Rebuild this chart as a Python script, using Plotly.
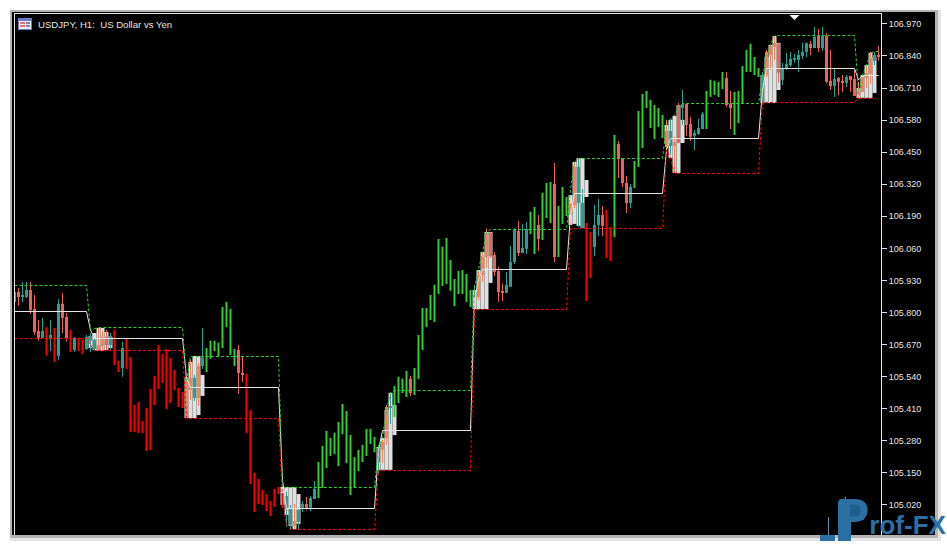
import plotly.graph_objects as go

# --- Candles: kind per bar (t teal, s salmon, r red, g green, o orange) ---
candle_kinds = ("tsttssstrt" "rtssrtrrtt" "toostrrtrr" "rrrrrrrrrr" "rrroototgg"
                "ggggggssrr" "rrrrrrrrtt" "ottsttgggg" "gggggggggg" "gtootggggs"
                "gggggggggg" "gggggtooos" "ssstttsttg" "gsgggsgggo" "ottrrttsrr"
                "gssstggggg" "gggotostss" "tttgggggss" "gggggggtoo" "osttttttts"
                "tstsstssts" "soooots")

highs = [
 105.887,105.899,105.924,105.924,105.924,105.871,105.770,105.778,105.741,105.770,
 105.737,105.855,105.879,105.798,105.729,105.701,105.697,105.689,105.709,105.717,
 105.697,105.737,105.725,105.729,105.717,105.729,105.604,105.681,105.697,105.620,
 105.425,105.437,105.360,105.413,105.490,105.543,105.668,105.632,105.652,105.616,
 105.567,105.494,105.478,105.539,105.608,105.547,105.596,105.737,105.656,105.685,
 105.685,105.677,105.822,105.843,105.814,105.652,105.668,105.620,105.551,105.405,
 105.149,105.125,105.081,105.064,105.036,105.085,105.093,105.068,105.073,105.020,
 105.024,105.008,105.036,105.052,105.056,105.117,105.194,105.259,105.320,105.291,
 105.312,105.356,105.429,105.401,105.303,105.214,105.243,105.263,105.328,105.328,
 105.295,105.263,105.283,105.425,105.478,105.502,105.539,105.531,105.563,105.543,
 105.575,105.709,105.818,105.818,105.871,105.912,106.098,106.066,106.102,106.013,
 105.936,105.968,105.972,105.956,105.891,105.912,105.964,106.041,106.139,106.126,
 106.045,105.985,105.916,105.964,106.070,106.143,106.171,106.159,106.167,106.208,
 106.228,106.195,106.285,106.325,106.329,106.406,106.232,106.309,106.268,106.244,
 106.410,106.426,106.301,106.163,106.126,106.236,106.260,106.232,106.216,106.147,
 106.520,106.495,106.426,106.353,106.321,106.414,106.617,106.686,106.698,106.662,
 106.641,106.629,106.601,106.581,106.585,106.512,106.649,106.702,106.645,106.593,
 106.540,106.585,106.613,106.698,106.743,106.739,106.735,106.775,106.775,106.698,
 106.694,106.698,106.799,106.864,106.889,106.836,106.791,106.775,106.864,106.885,
 106.921,106.893,106.812,106.852,106.856,106.848,106.864,106.893,106.893,106.901,
 106.958,106.949,106.958,106.933,106.864,106.787,106.755,106.763,106.763,106.759,
 106.783,106.735,106.755,106.799,106.856,106.856,106.881]

lows = [
 105.843,105.827,105.843,105.859,105.794,105.709,105.685,105.697,105.624,105.644,
 105.600,105.608,105.717,105.681,105.640,105.640,105.644,105.632,105.648,105.640,
 105.648,105.644,105.644,105.648,105.648,105.587,105.559,105.539,105.571,105.316,
 105.316,105.312,105.312,105.239,105.243,105.425,105.490,105.514,105.409,105.433,
 105.486,105.417,105.413,105.372,105.445,105.441,105.421,105.571,105.559,105.612,
 105.644,105.624,105.656,105.741,105.628,105.583,105.470,105.518,105.312,105.105,
 104.991,105.024,105.020,104.995,104.975,105.012,105.064,105.008,104.931,104.918,
 104.918,104.922,104.991,105.000,104.995,105.044,105.048,105.089,105.170,105.218,
 105.226,105.178,105.307,105.190,105.060,105.089,105.158,105.194,105.218,105.267,
 105.234,105.149,105.190,105.263,105.348,105.376,105.433,105.474,105.458,105.462,
 105.466,105.531,105.648,105.741,105.770,105.762,105.875,105.908,105.916,105.887,
 105.826,105.875,105.875,105.843,105.822,105.814,105.851,105.924,105.981,106.021,
 105.948,105.843,105.847,105.879,105.904,105.997,106.029,106.041,106.037,106.118,
 106.037,106.049,106.094,106.183,106.163,106.005,106.025,106.159,106.191,106.155,
 106.224,106.147,106.143,105.847,105.940,106.029,106.110,106.110,106.021,106.009,
 106.106,106.345,106.309,106.203,106.224,106.305,106.390,106.467,106.629,106.548,
 106.503,106.552,106.508,106.459,106.439,106.366,106.487,106.560,106.516,106.495,
 106.459,106.520,106.544,106.544,106.674,106.682,106.674,106.706,106.633,106.544,
 106.520,106.568,106.645,106.775,106.775,106.763,106.755,106.649,106.755,106.783,
 106.824,106.731,106.722,106.783,106.795,106.812,106.775,106.828,106.836,106.844,
 106.872,106.856,106.860,106.731,106.702,106.674,106.682,106.694,106.714,106.694,
 106.678,106.666,106.694,106.710,106.726,106.803,106.820]

body_tops = [
 105.883,105.883,105.871,105.891,105.891,105.814,105.725,105.725,105.737,105.709,
 105.737,105.835,105.835,105.782,105.729,105.697,105.697,105.689,105.701,105.705,
 105.689,105.668,105.701,105.701,105.705,105.729,105.604,105.656,105.697,105.620,
 105.425,105.437,105.360,105.413,105.490,105.543,105.668,105.632,105.652,105.616,
 105.567,105.494,105.478,105.539,105.535,105.535,105.583,105.616,105.656,105.685,
 105.685,105.677,105.822,105.843,105.814,105.652,105.648,105.555,105.551,105.405,
 105.149,105.125,105.081,105.064,105.036,105.085,105.093,105.068,105.056,105.008,
 104.955,105.000,105.024,105.024,105.048,105.085,105.194,105.259,105.320,105.291,
 105.312,105.356,105.429,105.401,105.303,105.214,105.243,105.263,105.328,105.328,
 105.295,105.251,105.275,105.417,105.421,105.502,105.539,105.531,105.563,105.531,
 105.575,105.709,105.818,105.818,105.871,105.912,106.098,106.066,106.102,106.013,
 105.936,105.968,105.972,105.956,105.891,105.871,105.952,106.025,106.122,106.122,
 106.033,105.968,105.887,105.912,106.005,106.135,106.131,106.062,106.139,106.208,
 106.228,106.155,106.285,106.325,106.329,106.321,106.232,106.309,106.268,106.240,
 106.390,106.390,106.244,106.163,106.126,106.155,106.195,106.195,106.216,106.147,
 106.520,106.483,106.426,106.325,106.309,106.414,106.617,106.686,106.698,106.662,
 106.641,106.629,106.601,106.536,106.536,106.491,106.641,106.645,106.645,106.564,
 106.528,106.548,106.605,106.698,106.743,106.739,106.735,106.775,106.751,106.645,
 106.694,106.698,106.799,106.864,106.889,106.836,106.791,106.763,106.856,106.881,
 106.893,106.889,106.791,106.808,106.828,106.828,106.844,106.856,106.893,106.889,
 106.917,106.921,106.921,106.921,106.739,106.747,106.751,106.739,106.755,106.759,
 106.747,106.698,106.755,106.771,106.832,106.844,106.844]

body_bottoms = [
 105.843,105.863,105.863,105.863,105.810,105.721,105.697,105.697,105.628,105.693,
 105.600,105.624,105.778,105.697,105.640,105.648,105.644,105.632,105.652,105.685,
 105.652,105.644,105.664,105.668,105.668,105.587,105.559,105.575,105.571,105.316,
 105.316,105.312,105.312,105.239,105.243,105.425,105.490,105.514,105.409,105.433,
 105.486,105.417,105.413,105.372,105.486,105.453,105.453,105.583,105.559,105.612,
 105.644,105.624,105.656,105.741,105.628,105.583,105.555,105.547,105.312,105.105,
 104.991,105.024,105.020,104.995,104.975,105.012,105.064,105.008,105.004,104.939,
 104.935,104.951,105.008,105.008,105.008,105.044,105.048,105.089,105.170,105.218,
 105.226,105.178,105.307,105.190,105.060,105.089,105.158,105.194,105.218,105.267,
 105.234,105.194,105.243,105.291,105.413,105.376,105.433,105.474,105.458,105.474,
 105.466,105.531,105.648,105.741,105.770,105.762,105.875,105.908,105.916,105.887,
 105.826,105.875,105.875,105.843,105.822,105.863,105.863,105.952,106.025,106.029,
 105.964,105.883,105.879,105.879,105.904,106.005,106.041,106.041,106.058,106.118,
 106.037,106.098,106.094,106.183,106.163,106.025,106.025,106.159,106.191,106.195,
 106.236,106.244,106.143,105.847,105.940,106.066,106.155,106.151,106.021,106.009,
 106.106,106.426,106.325,106.244,106.244,106.305,106.390,106.467,106.629,106.548,
 106.503,106.552,106.508,106.471,106.475,106.475,106.487,106.629,106.560,106.512,
 106.516,106.524,106.544,106.544,106.674,106.682,106.674,106.706,106.641,106.629,
 106.520,106.568,106.645,106.775,106.775,106.763,106.755,106.649,106.763,106.844,
 106.876,106.771,106.743,106.791,106.803,106.824,106.824,106.840,106.856,106.872,
 106.872,106.872,106.872,106.735,106.718,106.718,106.735,106.731,106.731,106.743,
 106.678,106.682,106.694,106.751,106.767,106.820,106.836]

# --- Light-grey session zones, per bar ---
zone_bars = [19,20,21,22,23,24, 43,44,45,46,47, 67,68,69,70,71, 91,92,93,94,95,
             115,116,117,118,119, 139,140,141,142,143, 163,164,165,166,167,
             187,188,189,190,191, 211,212,213,214,215]
zone_highs = [105.705,105.717,105.737,105.737,105.721,105.701,
              105.535,105.600,105.624,105.624,105.547,
              105.093,105.093,105.093,105.093,105.064,
              105.255,105.291,105.405,105.474,105.425,
              105.891,105.972,106.045,106.126,106.126,
              106.276,106.410,106.426,106.426,106.337,
              106.560,106.581,106.597,106.641,106.581,
              106.763,106.836,106.885,106.921,106.893,
              106.710,106.763,106.803,106.852,106.836]
zone_lows = [105.656,105.648,105.644,105.644,105.648,105.656,
             105.372,105.372,105.372,105.384,105.462,
             105.020,104.979,104.935,104.922,104.943,
             105.162,105.162,105.162,105.162,105.303,
             105.814,105.814,105.814,105.814,105.920,
             106.155,106.159,106.151,106.143,106.268,
             106.487,106.426,106.366,106.366,106.487,
             106.649,106.649,106.649,106.649,106.702,
             106.670,106.670,106.670,106.670,106.690]

# --- Indicator levels (line vertices) ---
top_x = [0,18,19,20,21,42,43,44,66,67,90,91,92,93,94,95,114,115,116,117,118,119,138,139,140,141,
         162,163,164,165,166,167,186,187,188,189,190,191,210,211,212,213,214,215,216]
top_y = [105.9094,105.9094,105.729,105.733,105.7392,105.7392,105.518,105.6216,105.6216,105.0906,105.0906,
         105.255,105.291,105.405,105.474,105.4838,105.4838,105.904,105.972,106.045,106.126,106.1364,
         106.1364,106.297,106.410,106.4242,106.4242,106.560,106.581,106.601,106.633,106.6472,106.6472,
         106.755,106.836,106.885,106.921,106.9228,106.9228,106.694,106.763,106.803,106.852,106.8580,106.8580]
mid_x = [0,18,19,20,42,43,44,66,67,68,90,91,92,114,115,116,117,138,139,140,162,163,164,186,187,188,
         210,211,212,216]
mid_y = [105.8040,105.8040,105.729,105.6946,105.6946,105.535,105.4959,105.4959,105.121,105.0054,105.0054,
         105.243,105.3216,105.3216,105.851,105.932,105.9743,105.9743,106.195,106.2824,106.2824,106.459,
         106.5053,106.5053,106.702,106.7891,106.7891,106.743,106.7607,106.7607]
bot_x = [0,18,19,20,42,43,66,67,68,69,90,91,114,115,138,139,162,163,164,165,186,187,210,211,215]
bot_y = [105.6946,105.6946,105.668,105.6459,105.6459,105.3703,105.3703,105.040,104.939,104.9203,104.9203,
         105.1595,105.1595,105.8121,105.8121,106.1405,106.1405,106.459,106.426,106.3634,106.3634,106.6512,
         106.6512,106.6675,106.6675]

price_ticks = [106.970,106.840,106.710,106.580,106.450,106.320,106.190,106.060,
               105.930,105.800,105.670,105.540,105.410,105.280,105.150,105.020]
title_text = "USDJPY, H1:  US Dollar vs Yen"
logo_text = '<span style="font-size:50px">P</span>rof-FX'

kind_colors = {"g": "#32CD32", "r": "#FF0000", "t": "#26A090", "s": "#F0605A", "o": "#FF7F50"}
kind_body = {"g": 0.5, "r": 0.5, "t": 0.75, "s": 0.75, "o": 0.75}
ZONE = "#E0E0E0"
LOGO = "#2B6FA3"
W, H = 947, 547
ML, MR, MT, MB = 12, 12, 12, 12
PW, PH = W - ML - MR, H - MT - MB
def X(px): return (px - ML) / PW
def Y(py): return 1 - (py - MT) / PH

fig = go.Figure()
fig.add_trace(go.Bar(x=zone_bars, base=zone_lows,
                     y=[a - b for a, b in zip(zone_highs, zone_lows)],
                     width=1.0, marker=dict(color=ZONE, line=dict(width=0)), hoverinfo="skip"))
bars = list(range(len(candle_kinds)))
for k, col in kind_colors.items():
    idx = [i for i in bars if candle_kinds[i] == k]
    fig.add_trace(go.Bar(x=idx, base=[lows[i] for i in idx],
                         y=[highs[i] - lows[i] for i in idx], width=0.25,
                         marker=dict(color=col, line=dict(width=0)), hoverinfo="skip"))
    fig.add_trace(go.Bar(x=idx, base=[body_bottoms[i] for i in idx],
                         y=[body_tops[i] - body_bottoms[i] for i in idx], width=kind_body[k],
                         marker=dict(color=col, line=dict(width=0)), hoverinfo="skip"))

fig.add_trace(go.Scatter(x=mid_x, y=mid_y, mode="lines", hoverinfo="skip",
                         line=dict(color="#E6E6E6", width=1)))
fig.add_trace(go.Scatter(x=top_x, y=top_y, mode="lines", hoverinfo="skip",
                         line=dict(color="#32CD32", width=1, dash="3px,2px")))
fig.add_trace(go.Scatter(x=bot_x, y=bot_y, mode="lines", hoverinfo="skip",
                         line=dict(color="#FF0000", width=1, dash="3px,2px")))

def rect(x0, y0, x1, y1, col, layer="below"):
    return dict(type="rect", xref="paper", yref="paper", x0=X(x0), x1=X(x1), y0=Y(y0), y1=Y(y1),
                fillcolor=col, line=dict(width=0), layer=layer)

shapes = [
    rect(10, 10, 941, 541, "#E4E4E4"),
    rect(10, 10, 938, 538, "#B4B4B4"),
    rect(12, 12, 935, 535, "#000000"),
    # window icon next to the title
    rect(18, 18, 32, 30, "#6A78C8", "above"),
    rect(19, 21, 31, 29, "#F2F2F2", "above"),
    rect(20, 22, 25, 24, "#E8706A", "above"),
    rect(20, 25, 25, 27, "#E8706A", "above"),
    rect(26, 22, 30, 24, "#6A86E0", "above"),
    rect(26, 25, 30, 27, "#6A86E0", "above"),
    # marker on top edge
    dict(type="path", xref="paper", yref="paper", layer="above",
         path=f"M {X(789.5)} {Y(15)} L {X(799.5)} {Y(15)} L {X(794.5)} {Y(20)} Z",
         fillcolor="#FFFFFF", line=dict(width=0)),
    # logo pieces
    rect(820, 535, 835, 541, LOGO, "above"),
    rect(828, 517, 829, 535, "#6E8FA8", "above"),
    rect(845, 497, 846, 501, "#6E8FA8", "above"),
    rect(838, 501, 851, 541, LOGO, "above"),
    rect(850, 503, 864, 520, "#1F5F8E", "above"),
]

annots = [
    dict(xref="paper", yref="paper", x=X(36), y=Y(24), text=title_text, showarrow=False,
         xanchor="left", yanchor="middle", font=dict(family="Liberation Sans", size=9.6, color="#E6E6E6")),
    dict(xref="paper", yref="paper", x=X(835), y=Y(546), text=logo_text, showarrow=False,
         xanchor="left", yanchor="bottom", borderpad=0,
         font=dict(family="Liberation Sans", size=26, color=LOGO, weight="bold")),
]

fig.update_layout(
    width=W, height=H, autosize=False, showlegend=False, barmode="overlay",
    margin=dict(l=ML, r=MR, t=MT, b=MB, pad=0),
    paper_bgcolor="#FFFFFF", plot_bgcolor="#000000",
    shapes=shapes, annotations=annots,
    xaxis=dict(domain=[X(15), X(881)], range=[0.125, 216.625], side="top", showgrid=False,
               zeroline=False, showticklabels=False, ticks="", showline=True, linecolor="#E6E6E6",
               linewidth=1, fixedrange=True),
    yaxis=dict(domain=[0, Y(14)], range=[104.898, 107.010], side="right", showgrid=False,
               zeroline=False, showline=True, mirror=True, linecolor="#E6E6E6", linewidth=1,
               tickmode="array", tickvals=price_ticks, ticktext=[f"{v:.3f}" for v in price_ticks],
               ticks="outside", ticklen=5, tickwidth=1, tickcolor="#E6E6E6",
               tickfont=dict(family="Liberation Sans", size=9, color="#E6E6E6"), fixedrange=True),
)
fig.write_html("out.html", config={"displayModeBar": False},
               post_script="document.body.style.margin='0';document.documentElement.style.overflow='hidden';")
